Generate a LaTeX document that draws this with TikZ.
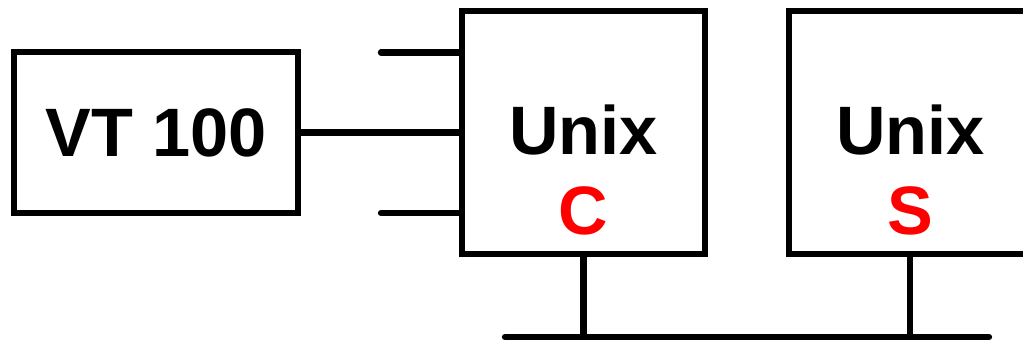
\documentclass[tikz,border=0pt]{standalone}
\usepackage{fontspec}
\setmainfont{Liberation Sans}
\usetikzlibrary{positioning}

\begin{document}
\begin{tikzpicture}[
    box/.style={rectangle, draw=black, line width=3.6pt, inner sep=0pt, font=\fontsize{39}{41}\selectfont\bfseries},
    termbox/.style={box, minimum width=5.69cm, minimum height=3.22cm},
    sysbox/.style={box, minimum width=4.86cm, minimum height=4.86cm},
    syslabel/.style={anchor=base, inner sep=0pt, font=\fontsize{39}{41}\selectfont\bfseries},
    wire/.style={line width=3.6pt, line cap=round}]

    \useasboundingbox (0,0) rectangle (20.46,6.84);

    % Terminal
    \node[termbox] (vt) at (3.12,4.19) {VT 100};

    % Hosts
    \node[sysbox] (unixc) at (11.67,4.19) {};
    \node[sysbox, right=1.55cm of unixc] (unixs) {};

    \node[syslabel] (unixcname) at ([yshift=-0.45cm]unixc.center) {Unix};
    \node[syslabel, text=red] (unixctag) at ([yshift=-2.05cm]unixc.center) {C};
    \node[syslabel] (unixsname) at ([yshift=-0.45cm]unixs.center) {Unix};
    \node[syslabel, text=red] (unixstag) at ([yshift=-2.05cm]unixs.center) {S};

    % Free line ends
    \coordinate (stubtop) at (7.62,5.79);
    \coordinate (stubbottom) at (7.62,2.58);
    \coordinate (busleft) at (10.1,0.1);
    \coordinate (busright) at (19.78,0.1);

    % Connections
    \draw[wire] (stubtop) -- (stubtop -| unixc.west);
    \draw[wire] (vt.east) -- (unixc.west);
    \draw[wire] (stubbottom) -- (stubbottom -| unixc.west);
    \draw[wire] (busleft) -- (busright);
    \draw[wire, line cap=butt] (unixc.south) -- (unixc.south |- busleft);
    \draw[wire, line cap=butt] (unixs.south) -- (unixs.south |- busleft);
\end{tikzpicture}
\end{document}
